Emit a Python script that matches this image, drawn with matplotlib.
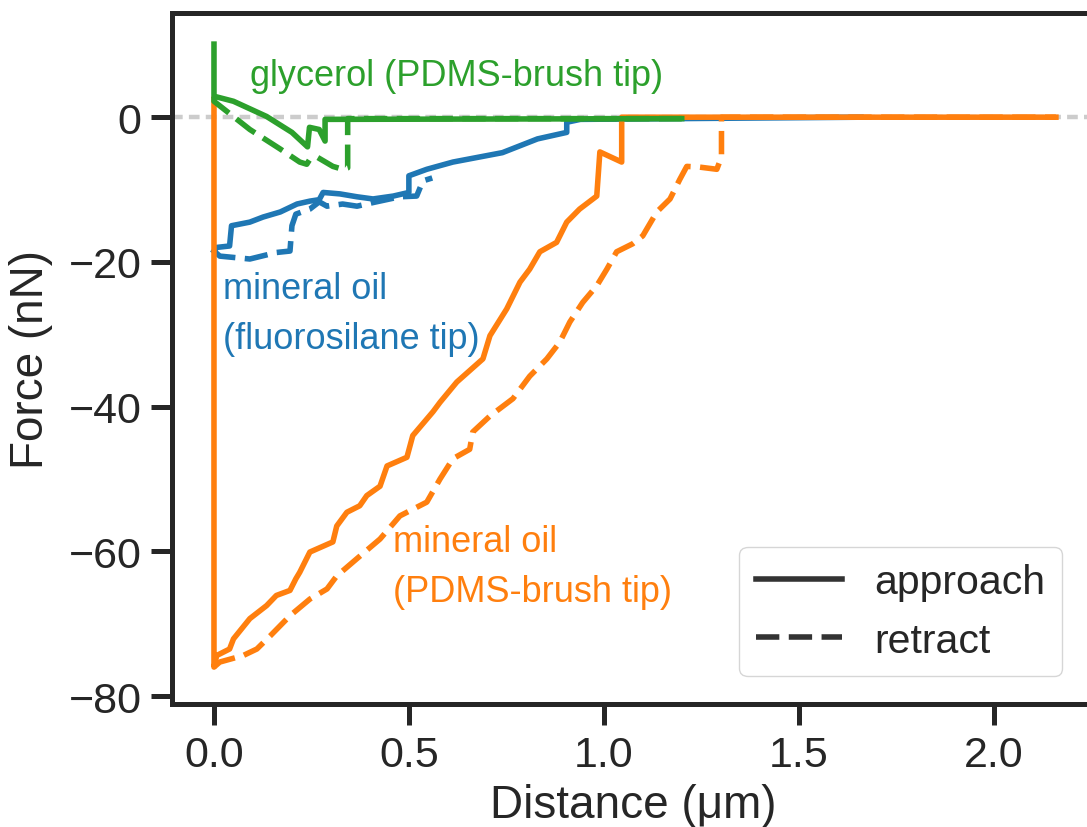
import matplotlib.pyplot as plt
from matplotlib.lines import Line2D

plt.rcParams['font.family'] = ['Liberation Sans', 'DejaVu Sans']

# ---------------- data ----------------
# glycerol, PDMS-brush tip
green_app_x = [1.20, 0.285, 0.285, 0.27, 0.245, 0.24, 0.20, 0.135, 0.05, 0.0, 0.0]
green_app_y = [-0.2, -0.3, -3.3, -1.7, -1.4, -4.1, -2.1, 0.1, 2.2, 2.9, 10.1]
green_ret_x = [0.0, 0.0, 0.092, 0.17, 0.22, 0.238, 0.245, 0.264, 0.305, 0.33, 0.343, 0.343, 1.20]
green_ret_y = [2.8, 2.2, -1.7, -4.4, -6.2, -6.5, -5.9, -5.5, -6.8, -7.2, -7.0, -0.2, -0.2]

# mineral oil, fluorosilane tip
blue_app_x = [1.66, 0.94, 0.905, 0.905, 0.83, 0.74, 0.613, 0.546, 0.50, 0.50, 0.46, 0.408,
              0.367, 0.323, 0.28, 0.27, 0.246, 0.213, 0.17, 0.126, 0.092, 0.045, 0.04, 0.007, 0.0]
blue_app_y = [0.0, -0.3, -0.7, -2.1, -3.0, -4.9, -6.2, -7.2, -8.1, -10.4, -10.9, -11.3,
              -11.0, -10.6, -10.4, -11.4, -11.6, -12.0, -13.1, -13.8, -14.5, -15.0, -17.8, -18.0, -18.5]
blue_ret_x = [0.0, 0.015, 0.092, 0.16, 0.195, 0.20, 0.21, 0.246, 0.27, 0.29, 0.33, 0.367,
              0.408, 0.477, 0.52, 0.536, 0.56]
blue_ret_y = [-18.5, -19.2, -19.6, -18.7, -18.5, -15.0, -13.4, -12.7, -11.7, -12.3, -12.0, -12.3,
              -11.8, -11.0, -10.9, -8.8, -8.4]

# mineral oil, PDMS-brush tip
orange_app_x = [2.16, 1.046, 1.046, 0.99, 0.982, 0.938, 0.905, 0.879, 0.836, 0.81, 0.785, 0.751,
                0.708, 0.69, 0.623, 0.58, 0.562, 0.51, 0.495, 0.444, 0.426, 0.392, 0.374, 0.341,
                0.315, 0.305, 0.246, 0.22, 0.21, 0.195, 0.16, 0.135, 0.092, 0.05, 0.04, 0.007, 0.0, 0.0]
orange_app_y = [0.0, 0.0, -6.2, -4.8, -10.9, -12.7, -14.5, -17.3, -18.6, -21.0, -22.8, -26.5,
                -30.2, -33.4, -36.6, -39.4, -40.7, -44.0, -47.0, -48.2, -51.0, -52.3, -53.7, -54.6,
                -56.5, -58.7, -60.1, -62.9, -63.8, -65.4, -66.1, -67.5, -69.3, -72.1, -73.5, -74.4, -76.0, 2.5]
orange_ret_x = [0.0, 0.015, 0.075, 0.11, 0.144, 0.195, 0.246, 0.29, 0.315, 0.367, 0.426, 0.477,
                0.546, 0.58, 0.613, 0.656, 0.664, 0.708, 0.767, 0.81, 0.854, 0.887, 0.913, 0.946,
                0.982, 1.008, 1.033, 1.074, 1.10, 1.136, 1.17, 1.195, 1.213, 1.246, 1.29, 1.302, 1.302, 2.16]
orange_ret_y = [-76.0, -75.3, -74.4, -73.5, -71.7, -68.9, -66.6, -65.2, -63.4, -61.0, -58.3, -55.1,
                -53.2, -50.0, -47.2, -45.9, -43.5, -41.3, -38.9, -35.8, -33.4, -31.1, -28.3, -25.6,
                -23.3, -21.0, -18.6, -17.5, -16.4, -13.1, -11.3, -8.6, -6.8, -6.9, -7.2, -5.5, 0.0, 0.0]

x_ticks = [0.0, 0.5, 1.0, 1.5, 2.0]
y_ticks = [-80, -60, -40, -20, 0]

# ---------------- plot ----------------
dark = '#262626'
blue, orange, green = '#1f77b4', '#ff7f0e', '#2ca02c'
lw = 4.0
dash = (0, (4.2, 1.7))

fig = plt.figure(figsize=(10.87, 8.28), dpi=100)
ax = fig.add_axes([172 / 1087, 1 - 705 / 828, 922 / 1087, 691 / 828])

ax.axhline(0, color='#cccccc', lw=3.2, ls=(0, (2.4, 1.4)), zorder=1)

kw = dict(lw=lw, solid_joinstyle='round', dash_joinstyle='round')
ax.plot(blue_app_x, blue_app_y, color=blue, **kw)
ax.plot(blue_ret_x, blue_ret_y, color=blue, ls=dash, **kw)
ax.plot(orange_app_x, orange_app_y, color=orange, **kw)
ax.plot(orange_ret_x, orange_ret_y, color=orange, ls=dash, **kw)
ax.plot(green_ret_x, green_ret_y, color=green, ls=dash, **kw)
ax.plot(green_app_x, green_app_y, color=green, **kw)

tfs = 26
ax.text(0.092, 8.2, 'glycerol (PDMS-brush tip)', color=green, fontsize=tfs, ha='left', va='top')
ax.text(0.023, -21.3, 'mineral oil\n(fluorosilane tip)', color=blue, fontsize=tfs,
        ha='left', va='top', linespacing=1.55)
ax.text(0.459, -56.2, 'mineral oil\n(PDMS-brush tip)', color=orange, fontsize=tfs,
        ha='left', va='top', linespacing=1.55)

ax.set_xlim(-0.1077, 2.2577)
ax.set_ylim(-81.1, 14.4)
ax.set_xticks(x_ticks)
ax.set_yticks(y_ticks)

for s in ax.spines.values():
    s.set_linewidth(3.6)
    s.set_color(dark)
ax.tick_params(axis='both', length=15, width=3.6, color=dark, labelcolor=dark,
               labelsize=31, pad=7)

ax.set_xlabel('Distance (μm)', fontsize=33, color=dark)
ax.set_ylabel('Force (nN)', fontsize=33, color=dark)
ax.xaxis.set_label_coords(0.5, -0.115)
ax.yaxis.set_label_coords(-0.129, 0.5)

handles = [Line2D([], [], color='#333333', lw=lw),
           Line2D([], [], color='#333333', lw=lw, ls=dash)]
ax.legend(handles, ['approach', 'retract'], fontsize=29.5, loc='lower right',
          bbox_to_anchor=(1062 / 1087, 1 - 677 / 828), bbox_transform=fig.transFigure,
          borderaxespad=0, handlelength=2.1, frameon=True, edgecolor='#cccccc',
          labelcolor=dark)

fig.savefig('out.png', dpi=100)
